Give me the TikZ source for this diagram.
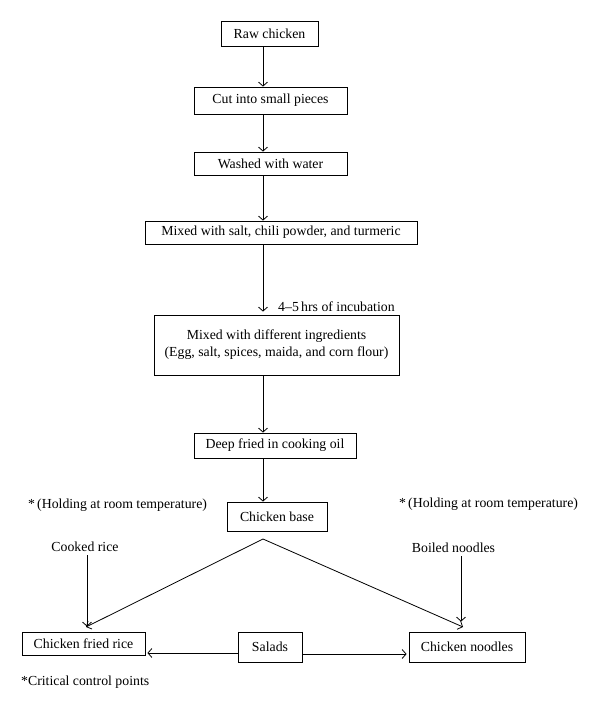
\documentclass[tikz,border=0pt]{standalone}
\usepackage{fontspec}
\setmainfont{Liberation Serif}
\usetikzlibrary{arrows.meta}
\begin{document}
\begin{tikzpicture}[x=1pt,y=-1pt,
  every node/.style={font=\fontsize{13.8}{16}\selectfont, inner sep=0pt},
  box/.style={draw, line width=0.8pt, minimum height=#1},
  lbl/.style={anchor=center},
  arr/.style={draw, line width=0.8pt, -{Straight Barb[length=4pt,width=9pt,line width=0.8pt]}},
  ln/.style={draw, line width=0.8pt}
]
\useasboundingbox (0,0) rectangle (600,710);

% main chain
\node[box=25pt, minimum width=97pt]  (raw)   at (269.5,33.5) {Raw chicken};
\node[box=27pt, minimum width=153pt] (cut)   at (270.5,100.5) {Cut into small pieces};
\node[box=23pt, minimum width=153pt] (wash)  at (270.5,163.5) {Washed with water};
\node[box=23pt, minimum width=272pt] (salt)  at (281,232.5) {Mixed with salt, chili powder, and turmeric};
\node[box=60pt, minimum width=245pt, align=center] (mix) at (276.5,345)
  {Mixed with different ingredients\\[1pt](Egg, salt, spices, maida, and corn flour)};
\node[box=25pt, minimum width=162pt] (fry)   at (275,445.5) {Deep fried in cooking oil};
\node[box=29pt, minimum width=100pt] (base)  at (277,516.5) {Chicken base};

\node[box=23pt, minimum width=123pt] (rice)    at (83.5,643.5) {Chicken fried rice};
\node[box=30pt, minimum width=64pt]  (salads)  at (270,647) {Salads};
\node[box=30pt, minimum width=116pt] (noodles) at (467,647) {Chicken noodles};

% labels
\node[anchor=west] (incub) at (278,307) {4--5\,hrs of incubation};
\node[lbl] (holdL) at (117.5,505) {*\,(Holding at room temperature)};
\node[lbl] (holdR) at (488.5,504) {*\,(Holding at room temperature)};
\node[lbl] (cooked) at (85,547) {Cooked rice};
\node[lbl] (boiled) at (453.5,548) {Boiled noodles};
\node[anchor=west] (crit) at (21,682) {*Critical control points};

% helper coordinates
\coordinate (ax) at (263,0);
\coordinate (apex) at (263,539);
\coordinate (riceTip) at (86,627);
\coordinate (noodTip) at (463,627);
\coordinate (cookX) at (87,0);
\coordinate (boilX) at (461,0);
\coordinate (sRiceY) at (0,653);
\coordinate (sNoodY) at (0,654);

% vertical arrows
\path[arr] (raw.south -| ax) -- (cut.north -| ax);
\path[arr] (cut.south -| ax) -- (wash.north -| ax);
\path[arr] (wash.south -| ax) -- (salt.north -| ax);
\path[arr, shorten >=3pt] (salt.south -| ax) -- (mix.north -| ax);
\path[arr] (mix.south -| ax) -- (fry.north -| ax);
\path[arr] (fry.south -| ax) -- (base.north -| ax);

% branching
\path[arr] (apex) -- (riceTip);
\path[arr] (apex) -- (noodTip);
\path[arr, shorten <=3pt, shorten >=5pt] (cooked.south -| cookX) -- (rice.north -| cookX);
\path[arr, shorten <=3pt, shorten >=10pt] (boiled.south -| boilX) -- (noodles.north -| boilX);

% salads
\path[arr, shorten >=2pt] (salads.west |- sRiceY) -- (rice.east |- sRiceY);
\path[arr, shorten >=2pt] (salads.east |- sNoodY) -- (noodles.west |- sNoodY);
\end{tikzpicture}
\end{document}
